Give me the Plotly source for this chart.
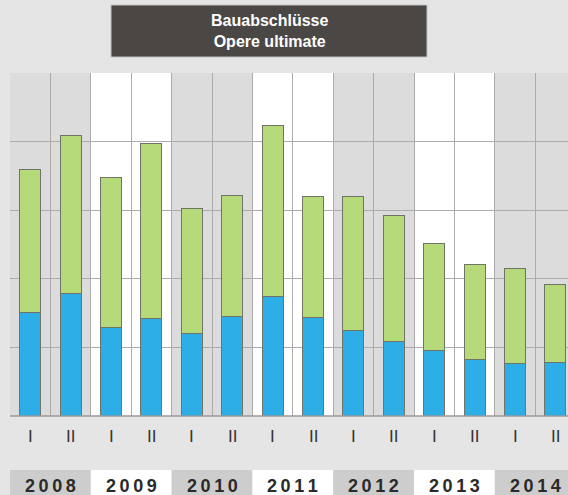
import plotly.graph_objects as go

# Data (units: 5 grid steps of 20)
periods = ["I", "II"] * 7
years = ["2008", "2009", "2010", "2011", "2012", "2013", "2014"]
blue_vals = [30.2, 35.7, 25.7, 28.4, 24.1, 29.1, 34.7, 28.6, 25.0, 21.8, 19.1, 16.6, 15.3, 15.6]
total_vals = [71.9, 81.7, 69.6, 79.5, 60.4, 64.2, 84.6, 64.1, 64.1, 58.4, 50.3, 44.1, 43.1, 38.4]
green_vals = [round(t - b, 1) for t, b in zip(total_vals, blue_vals)]
title_lines = ["Bauabschlüsse", "Opere ultimate"]

W, H = 568, 495
ML, MR, MT, MB = 10, 0, 73, 79
PW, PH = W - ML - MR, H - MT - MB

def px_x(px):
    return (px - ML) / PW

def px_y(py):
    return (H - MB - py) / PH

n = len(periods)
xs = list(range(n))
col_px = 40.4
x_right = -0.5 + PW / col_px

BLUE = "#2eaee6"
GREEN = "#b6da7a"
EDGE = "#6f7368"

fig = go.Figure()
fig.add_trace(go.Bar(x=xs, y=blue_vals, width=0.52, marker=dict(color=BLUE, line=dict(color=EDGE, width=1)),
                     hoverinfo="skip"))
fig.add_trace(go.Bar(x=xs, y=green_vals, width=0.52, marker=dict(color=GREEN, line=dict(color=EDGE, width=1)),
                     hoverinfo="skip"))

shapes = []
annotations = []
for k, yr in enumerate(years):
    x0, x1 = -0.5 + 2 * k, 1.5 + 2 * k
    gray = (k % 2 == 0)
    if gray:
        shapes.append(dict(type="rect", xref="x", yref="y", x0=x0, x1=x1, y0=0, y1=100,
                           fillcolor="#dcdcdc", line=dict(width=0), layer="below"))
    shapes.append(dict(type="rect", xref="x", yref="paper", x0=x0, x1=x1,
                       y0=px_y(500), y1=px_y(470),
                       fillcolor="#cdcdcd" if gray else "#ffffff", line=dict(width=0), layer="below"))
    annotations.append(dict(x=(x0 + x1) / 2, y=px_y(486), xref="x", yref="paper",
                            text="\u2009".join(yr), showarrow=False,
                            font=dict(family="Liberation Sans, Arial", size=18, color="#2a2a2a", weight="bold"),
                            xanchor="center", yanchor="middle"))

for i, p in enumerate(periods):
    annotations.append(dict(x=i, y=px_y(436), xref="x", yref="paper", text=p, showarrow=False,
                            font=dict(family="Liberation Sans, Arial", size=17, color="#333333"),
                            xanchor="center", yanchor="middle"))

# title box
shapes.append(dict(type="rect", xref="paper", yref="paper", x0=px_x(111), x1=px_x(427),
                   y0=px_y(57), y1=px_y(5), fillcolor="#4b4745", line=dict(color="#c4c4c4", width=1)))
annotations.append(dict(x=px_x(269), y=px_y(31.5), xref="paper", yref="paper",
                        text="<br>".join(title_lines), showarrow=False,
                        font=dict(family="Liberation Sans, Arial", size=16, color="#ffffff", weight="bold"),
                        xanchor="center", yanchor="middle"))

fig.update_layout(
    width=W, height=H,
    margin=dict(l=ML, r=MR, t=MT, b=MB, pad=0),
    paper_bgcolor="#e5e5e5",
    plot_bgcolor="#ffffff",
    barmode="stack",
    showlegend=False,
    shapes=shapes,
    annotations=annotations,
    xaxis=dict(range=[-0.5, x_right], tickvals=[i - 0.5 for i in range(n + 1)],
               showticklabels=False, ticks="", showgrid=True, gridcolor="#ababab", gridwidth=1,
               zeroline=False, showline=False, fixedrange=True),
    yaxis=dict(range=[0, 100], dtick=20, showticklabels=False, ticks="", showgrid=True,
               gridcolor="#ababab", gridwidth=1, zeroline=False, showline=False, fixedrange=True),
)
fig.add_shape(type="line", xref="paper", yref="paper", x0=0, x1=1, y0=0, y1=0, line=dict(color="#9a9a9a", width=1.5))

fig.write_html("out.html", config={"displayModeBar": False},
               post_script="document.body.style.margin='0';document.body.style.overflow='hidden';")
